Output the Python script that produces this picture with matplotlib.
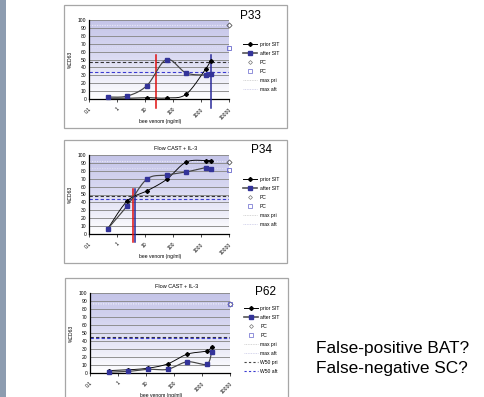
import numpy as np
import matplotlib
matplotlib.use("Agg")
import matplotlib.pyplot as plt
from matplotlib.patches import Rectangle
from matplotlib.colors import LinearSegmentedColormap
from matplotlib.lines import Line2D

plt.rcParams['font.family'] = ['Liberation Sans', 'DejaVu Sans']

# ---------------- data ----------------
conc = [0.47, 2.35, 11.7, 58.6, 293, 1465, 2200]
xticks = [0.1, 1, 10, 100, 1000, 10000]
xticklabels = ["0.1", "1", "10", "100", "1000", "10000"]
yticks = list(range(0, 101, 10))

p33_prior = [1, 1, 1.7, 1.3, 6, 38, 48.5]
p33_after = [2.5, 3.8, 17, 50, 33, 30.5, 32]
p33_pc = [94, 65]
p33_max = [93.5, 65.5]
p33_w50 = [47, 34]
p33_thr = [24.7, 2280]
p33_thr_span = [-11.5, 55.5]

p34_prior = [6.8, 42, 54.5, 69, 91, 93, 93]
p34_after = [6.8, 36, 69.5, 74.7, 78.5, 84, 82]
p34_pc = [91, 81]
p34_max = [93, 84]
p34_w50 = [47.5, 44.5]
p34_thr = [3.7, 4.4]
p34_thr_span = [-10, 57]

p62_prior = [3, 4, 6, 11.3, 23.5, 27.5, 33]
p62_after = [1, 2, 4.6, 4.6, 14, 11, 26.5]
p62_pc = [86.5, 86.5]
p62_max = [87.5, 86.5]
p62_w50 = [45, 44]

pc_x = 10000

W, H = 484, 397
fig = plt.figure(figsize=(W / 100, H / 100), dpi=100)
fig.patch.set_facecolor('white')


def rect(x0, y0, x1, y1):
    return [x0 / W, 1 - y1 / H, (x1 - x0) / W, (y1 - y0) / H]


def fx(x):
    return x / W


def fy(y):
    return 1 - y / H


# left stripe
fig.add_artist(Rectangle((0, 0), fx(6), 1, transform=fig.transFigure,
                         facecolor='#8d9cb0', edgecolor='none', zorder=-5))


def smooth(x, y, n=24):
    lx = np.log10(np.asarray(x, float))
    pts = np.column_stack([lx, np.asarray(y, float)])
    P = np.vstack([pts[0], pts, pts[-1]])
    segs = []
    t = np.linspace(0, 1, n)[:, None]
    for i in range(1, len(P) - 2):
        p0, p1, p2, p3 = P[i - 1], P[i], P[i + 1], P[i + 2]
        c1 = p1 + (p2 - p0) / 6
        c2 = p2 - (p3 - p1) / 6
        seg = (1 - t) ** 3 * p1 + 3 * (1 - t) ** 2 * t * c1 + 3 * (1 - t) * t ** 2 * c2 + t ** 3 * p2
        segs.append(seg)
    s = np.vstack(segs)
    return 10 ** s[:, 0], s[:, 1]


cmap = LinearSegmentedColormap.from_list('bg', [(0, '#ffffff'), (0.55, '#dadaf2'), (1, '#c4c4e8')])
navy = '#333399'


def panel(box, area, prior, after, pc, mx, w50, thr, thr_span, title, plabel,
          ppos, ftitle, legpos, w50_legend):
    bx0, by0, bx1, by1 = box
    fig.add_artist(Rectangle((fx(bx0), fy(by1)), fx(bx1) - fx(bx0), fy(by0) - fy(by1),
                             transform=fig.transFigure, facecolor='white',
                             edgecolor='#a6a6a6', linewidth=0.9, zorder=-5))
    # gradient background
    bg = fig.add_axes(rect(*area))
    bg.imshow(np.linspace(0, 1, 256).reshape(-1, 1), aspect='auto', cmap=cmap,
              extent=[0, 1, 0, 1], origin='lower')
    bg.set_axis_off()
    ax = fig.add_axes(rect(*area))
    ax.set_facecolor('none')
    ax.set_xscale('log')
    ax.set_xlim(0.1, 10000)
    ax.set_ylim(0, 100)
    for yv in yticks[1:]:
        ax.axhline(yv, color='#8a8a8a', lw=0.65, zorder=1)
    for s in ['top', 'right']:
        ax.spines[s].set_visible(False)
    for s in ['left', 'bottom']:
        ax.spines[s].set_color('black')
        ax.spines[s].set_linewidth(0.9)
    ax.set_yticks(yticks)
    ax.set_yticklabels([str(v) for v in yticks], fontsize=3.6)
    ax.set_xticks(xticks)
    ax.set_xticklabels(xticklabels, fontsize=3.6, rotation=45, ha='right',
                       va='top', rotation_mode='anchor')
    ax.xaxis.set_minor_locator(matplotlib.ticker.NullLocator())
    ax.tick_params(axis='y', length=0, pad=2)
    ax.tick_params(axis='x', length=2, width=0.5, pad=3.5, direction='out')
    ax.set_ylabel('%CD63', fontsize=3.6)
    ax.yaxis.set_label_coords(-0.115, 0.5)
    ax.set_xlabel('bee venom (ng/ml)', fontsize=3.6)
    ax.xaxis.set_label_coords(0.51, -0.25)

    # max lines
    ax.axhline(mx[0], color='#e6e6f4', lw=0.9, ls=(0, (1, 1)), zorder=2)
    ax.axhline(mx[1], color='#dcdcf2', lw=0.9, ls=(0, (1, 1)), zorder=2)
    # W50 lines
    ax.axhline(w50[0], color='#333333', lw=0.8, ls=(0, (3, 2)), zorder=2)
    ax.axhline(w50[1], color='#3b3bd0', lw=0.8, ls=(0, (3, 2)), zorder=2)

    # threshold lines
    if thr is not None:
        ax.plot([thr[0], thr[0]], thr_span, color='#e01010', lw=1.1, clip_on=False, zorder=4)
        ax.plot([thr[1], thr[1]], thr_span, color='#2a2a9a', lw=1.1, clip_on=False, zorder=4)

    sx, sy = smooth(conc, prior)
    ax.plot(sx, sy, color='black', lw=0.65, zorder=5)
    ax.plot(conc, prior, ls='none', marker='D', ms=2, color='black', zorder=6)
    sx, sy = smooth(conc, after)
    ax.plot(sx, sy, color='#444444', lw=0.85, zorder=5)
    ax.plot(conc, after, ls='none', marker='s', ms=3.5, color=navy,
            markeredgecolor=navy, zorder=6, clip_on=False)
    ax.plot([pc_x], [pc[0]], ls='none', marker='D', ms=2.6, mfc='none',
            mec='#555555', mew=0.6, clip_on=False, zorder=7)
    ax.plot([pc_x], [pc[1]], ls='none', marker='s', ms=3.3, mfc='none',
            mec='#6666cc', mew=0.6, clip_on=False, zorder=7)

    handles = [
        Line2D([], [], color='black', lw=0.7, marker='D', ms=2),
        Line2D([], [], color='#555555', lw=1.2, marker='s', ms=3, mfc=navy, mec=navy),
        Line2D([], [], ls='none', marker='D', ms=2, mfc='none', mec='#777777', mew=0.5),
        Line2D([], [], ls='none', marker='s', ms=2.6, mfc='none', mec='#6666cc', mew=0.5),
        Line2D([], [], color='#c8c8c8', lw=0.6, ls=(0, (1, 1))),
        Line2D([], [], color='#c8c8e6', lw=0.6, ls=(0, (1, 1))),
    ]
    labels = ['prior SIT', 'after SIT', 'PC', 'PC', 'max pri', 'max aft']
    if w50_legend:
        handles += [Line2D([], [], color='#444444', lw=0.8, ls=(0, (2, 2))),
                    Line2D([], [], color='#3b3bd0', lw=0.8, ls=(0, (2, 2)))]
        labels += ['W50 pri', 'W50 aft']
    fig.legend(handles, labels, loc='upper left',
               bbox_to_anchor=(fx(legpos[0]), fy(legpos[1])),
               bbox_transform=fig.transFigure, frameon=False, fontsize=3.6,
               handlelength=2.8, handletextpad=0.5, labelspacing=0.8,
               borderpad=0, borderaxespad=0)

    if ftitle:
        fig.text(fx((bx0 + bx1) / 2), fy(title), 'Flow CAST + IL-3', fontsize=4,
                 ha='center', va='center')
    fig.text(fx(ppos[0]), fy(ppos[1]), plabel, fontsize=8.5, ha='left', va='center')
    return ax


panel((64, 5, 287, 128), (89, 20, 229, 99), p33_prior, p33_after, p33_pc,
      p33_max, p33_w50, p33_thr, p33_thr_span, None, 'P33', (240, 16), False,
      (243, 42), False)
panel((64, 140, 287, 263), (89, 155, 229, 234), p34_prior, p34_after, p34_pc,
      p34_max, p34_w50, p34_thr, p34_thr_span, 149, 'P34', (251, 150), True,
      (243, 177), False)
panel((65, 278, 288, 400), (90, 293, 230, 373), p62_prior, p62_after, p62_pc,
      p62_max, p62_w50, None, None, 287, 'P62', (255, 292), True,
      (244, 306), True)

fig.text(fx(316), fy(348), 'False-positive BAT?', fontsize=12.4, ha='left', va='center')
fig.text(fx(316), fy(368), 'False-negative SC?', fontsize=12.4, ha='left', va='center')

fig.savefig('out.png', dpi=100)
